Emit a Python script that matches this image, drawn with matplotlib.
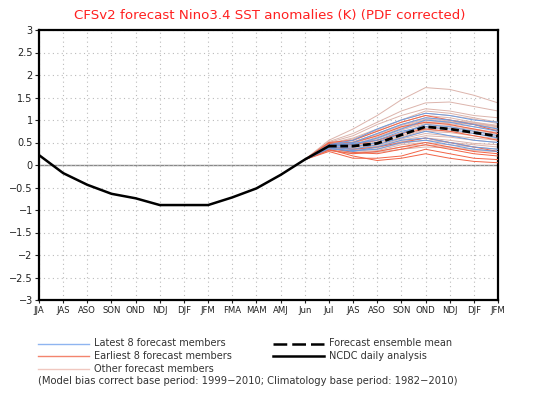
import numpy as np
import matplotlib.pyplot as plt
from matplotlib.lines import Line2D

months = ["JJA", "JAS", "ASO", "SON", "OND", "NDJ", "DJF", "JFM", "FMA", "MAM",
          "AMJ", "Jun", "Jul", "JAS", "ASO", "SON", "OND", "NDJ", "DJF", "JFM"]

# NCDC daily analysis (JJA .. Jul)
observed = [0.22, -0.18, -0.44, -0.64, -0.74, -0.89, -0.89, -0.89, -0.72, -0.52,
            -0.22, 0.12, 0.42]

# forecast members: Jun .. JFM (start value at Jun)
start_val = 0.12
latest8 = [
    [0.45, 0.55, 0.80, 1.00, 1.15, 1.10, 1.00, 0.95],
    [0.42, 0.45, 0.60, 0.80, 1.00, 0.95, 0.85, 0.75],
    [0.40, 0.35, 0.45, 0.60, 0.75, 0.65, 0.55, 0.50],
    [0.38, 0.30, 0.40, 0.55, 0.60, 0.50, 0.40, 0.35],
    [0.44, 0.50, 0.70, 0.90, 1.05, 1.00, 0.90, 0.80],
    [0.40, 0.40, 0.50, 0.70, 0.90, 0.85, 0.75, 0.65],
    [0.36, 0.32, 0.35, 0.50, 0.55, 0.45, 0.35, 0.30],
    [0.42, 0.48, 0.55, 0.75, 0.85, 0.80, 0.70, 0.60],
]
earliest8 = [
    [0.50, 0.55, 0.75, 0.95, 1.10, 1.00, 0.90, 0.75],
    [0.35, 0.20, 0.10, 0.15, 0.25, 0.15, 0.08, 0.05],
    [0.30, 0.15, 0.15, 0.20, 0.35, 0.25, 0.15, 0.12],
    [0.38, 0.28, 0.25, 0.35, 0.45, 0.35, 0.25, 0.20],
    [0.40, 0.35, 0.40, 0.50, 0.60, 0.50, 0.40, 0.30],
    [0.45, 0.45, 0.55, 0.70, 0.80, 0.75, 0.65, 0.55],
    [0.33, 0.25, 0.30, 0.40, 0.50, 0.40, 0.30, 0.25],
    [0.48, 0.50, 0.65, 0.85, 0.95, 0.90, 0.80, 0.70],
]
others = [
    [0.55, 0.80, 1.10, 1.45, 1.72, 1.68, 1.55, 1.38],
    [0.52, 0.70, 0.95, 1.20, 1.38, 1.40, 1.30, 1.20],
    [0.50, 0.65, 0.90, 1.10, 1.25, 1.20, 1.10, 1.05],
    [0.48, 0.60, 0.80, 1.00, 1.20, 1.15, 1.05, 0.95],
    [0.46, 0.55, 0.75, 0.95, 1.10, 1.05, 0.95, 0.85],
    [0.45, 0.50, 0.70, 0.90, 1.05, 1.00, 0.92, 0.85],
    [0.44, 0.48, 0.65, 0.85, 1.00, 0.95, 0.90, 0.80],
    [0.43, 0.45, 0.60, 0.80, 0.95, 0.92, 0.85, 0.78],
    [0.42, 0.45, 0.58, 0.78, 0.92, 0.95, 0.90, 0.82],
    [0.41, 0.42, 0.55, 0.72, 0.90, 0.88, 0.80, 0.72],
    [0.40, 0.40, 0.52, 0.70, 0.85, 0.85, 0.78, 0.70],
    [0.40, 0.40, 0.50, 0.65, 0.80, 0.82, 0.75, 0.68],
    [0.39, 0.38, 0.48, 0.62, 0.78, 0.75, 0.70, 0.62],
    [0.38, 0.36, 0.45, 0.60, 0.75, 0.72, 0.65, 0.58],
    [0.38, 0.35, 0.42, 0.58, 0.70, 0.65, 0.60, 0.55],
    [0.37, 0.33, 0.40, 0.55, 0.65, 0.62, 0.55, 0.50],
    [0.36, 0.32, 0.38, 0.52, 0.60, 0.55, 0.48, 0.45],
    [0.35, 0.30, 0.35, 0.48, 0.55, 0.50, 0.45, 0.40],
    [0.34, 0.28, 0.32, 0.45, 0.50, 0.45, 0.40, 0.35],
    [0.33, 0.26, 0.30, 0.40, 0.45, 0.40, 0.35, 0.30],
    [0.47, 0.58, 0.78, 1.00, 1.15, 1.10, 1.02, 0.92],
    [0.45, 0.52, 0.68, 0.88, 1.02, 0.98, 0.95, 0.88],
    [0.43, 0.46, 0.62, 0.82, 0.98, 0.96, 0.92, 0.86],
    [0.32, 0.25, 0.28, 0.35, 0.40, 0.38, 0.32, 0.30],
]
# ensemble mean Jul .. JFM
ens_mean = [0.42, 0.42, 0.48, 0.67, 0.85, 0.80, 0.72, 0.64]

x = np.arange(len(months))
x_obs = x[:len(observed)]
x_fc = x[11:]
x_mean = x[12:]

fig = plt.figure(figsize=(5.36, 3.98), dpi=100)
ax = fig.add_axes([39 / 536, 1 - 300 / 398, 459 / 536, 270 / 398])

for m in others:
    ax.plot(x_fc, [start_val] + m, color="#dcb4ac", lw=0.7, zorder=2)
for m in earliest8:
    ax.plot(x_fc, [start_val] + m, color="#f26446", lw=0.7, zorder=3)
for m in latest8:
    ax.plot(x_fc, [start_val] + m, color="#6c9ce0", lw=0.7, zorder=4)

ax.axhline(0, color="#888888", lw=1.0, zorder=1)
ax.plot(x_mean, ens_mean, color="black", lw=2.0, dashes=(2.8, 1.3), zorder=6)
ax.plot(x_obs, observed, color="black", lw=1.8, zorder=7)

ax.set_xlim(0, len(months) - 1)
ax.set_ylim(-3, 3)
ax.set_xticks(x)
ax.set_xticklabels(months)
yt = np.arange(-3, 3.01, 0.5)
ax.set_yticks(yt)
ax.set_yticklabels([("%g" % v).replace("-", "\u2212") for v in yt])
ax.tick_params(axis="y", labelsize=7, length=3, width=0.8, colors="#222222", pad=1.5)
ax.tick_params(axis="x", labelsize=6.1, length=2, width=0.8, colors="#222222", pad=2)
ax.grid(True, color="#bbbbbb", ls=(0, (1, 3)), lw=0.8)
for s in ax.spines.values():
    s.set_linewidth(1.6)

fig.text(0.503, 1 - 16 / 398, "CFSv2 forecast Nino3.4 SST anomalies (K) (PDF corrected)",
         color="#ff2020", fontsize=9.6, ha="center", va="center")

# legend
legend_left = [("#8fb5f0", "Latest 8 forecast members"),
               ("#f3846d", "Earliest 8 forecast members"),
               ("#f0c8c0", "Other forecast members")]
for i, (c, lab) in enumerate(legend_left):
    y = 1 - (343.5 + 12.5 * i) / 398
    fig.add_artist(Line2D([38 / 536, 89 / 536], [y, y], color=c, lw=1.0,
                          transform=fig.transFigure))
    fig.text(94 / 536, y, lab, fontsize=7, color="#333333", va="center")

legend_right = [("dash", "Forecast ensemble mean"), ("solid", "NCDC daily analysis")]
for i, (st, lab) in enumerate(legend_right):
    y = 1 - (343.5 + 12.5 * i) / 398
    ln = Line2D([273 / 536, 324 / 536], [y, y], color="black", lw=1.8,
                transform=fig.transFigure)
    if st == "dash":
        ln.set_dashes((5.5, 2.0))
    fig.add_artist(ln)
    fig.text(329 / 536, y, lab, fontsize=7, color="#333333", va="center")

fig.text(38 / 536, 1 - 381.5 / 398,
         "(Model bias correct base period: 1999\u22122010; Climatology base period: 1982\u22122010)",
         fontsize=7.2, color="#333333", va="center")

fig.savefig("out.png", dpi=100)
